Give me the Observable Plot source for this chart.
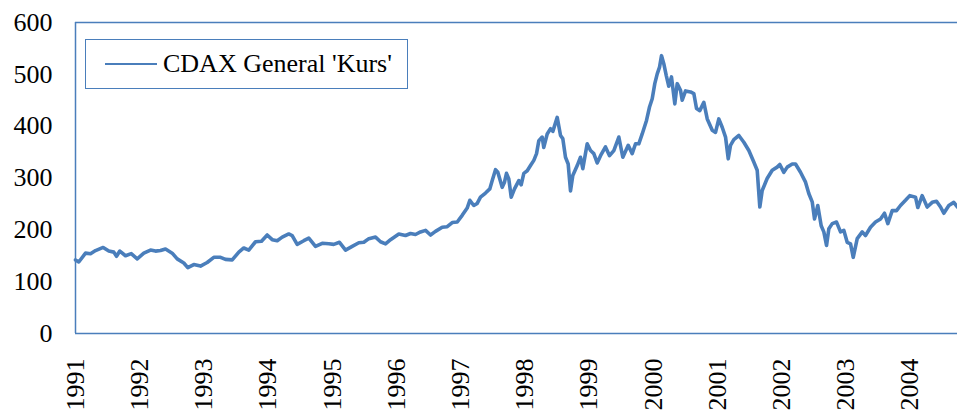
<!DOCTYPE html>
<html><head><meta charset="utf-8">
<script src="https://cdn.jsdelivr.net/npm/d3@7"></script>
<script src="https://cdn.jsdelivr.net/npm/@observablehq/plot@0.6"></script>
<style>
body{margin:0;background:#fff;}
#wrap{position:relative;width:957px;height:415px;overflow:hidden;}
#wrap svg, #wrap svg text{font-family:"Liberation Serif","Times New Roman",serif !important;font-variant-numeric:normal !important;}
#legend{position:absolute;left:85px;top:39px;width:323px;height:50px;border:1.5px solid #4a7ebb;box-sizing:border-box;font-family:"Liberation Serif",serif;font-size:26px;color:#000;display:flex;align-items:center;background:#fff;}
#legend .sw{display:inline-block;width:52px;height:2px;background:#4a7ebb;margin-left:19px;margin-right:6px;}
</style>
</head><body>
<div id="wrap"></div>
<script>
const seriesName = "CDAX General 'Kurs'";
const years = [1991,1992,1993,1994,1995,1996,1997,1998,1999,2000,2001,2002,2003,2004];
const yTicks = [0,100,200,300,400,500,600];
// time as decimal year
const t = [
1991.000,1991.051,1991.156,1991.234,1991.312,1991.431,1991.519,1991.597,1991.639,1991.690,1991.779,1991.868,1991.961,
1992.064,1992.168,1992.246,1992.324,1992.402,1992.506,1992.584,1992.687,1992.749,1992.843,1992.947,
1993.051,1993.154,1993.259,1993.336,1993.441,1993.544,1993.621,1993.699,1993.804,1993.897,1993.986,
1994.064,1994.142,1994.220,1994.322,1994.375,1994.453,1994.556,1994.634,1994.738,1994.843,1994.946,
1995.023,1995.112,1995.206,1995.310,1995.413,1995.491,1995.569,1995.673,1995.751,1995.829,1995.907,
1996.036,1996.140,1996.218,1996.296,1996.374,1996.452,1996.530,1996.607,1996.712,1996.790,1996.868,1996.946,
1997.023,1997.101,1997.142,1997.204,1997.257,1997.308,1997.386,1997.453,1997.491,1997.542,1997.578,1997.646,1997.682,1997.713,1997.749,1997.787,1997.838,1997.905,1997.942,1997.983,
1998.036,1998.087,1998.139,1998.181,1998.217,1998.269,1998.294,1998.347,1998.399,1998.435,1998.503,1998.555,1998.590,1998.632,1998.674,1998.710,1998.746,1998.815,1998.866,1998.902,1998.970,
1999.022,1999.073,1999.126,1999.178,1999.255,1999.318,1999.385,1999.463,1999.525,1999.609,1999.671,1999.723,1999.774,1999.827,1999.894,1999.941,1999.983,
2000.023,2000.061,2000.097,2000.128,2000.164,2000.201,2000.241,2000.283,2000.335,2000.372,2000.424,2000.450,2000.502,2000.580,2000.631,2000.673,2000.724,2000.787,2000.840,2000.918,2000.969,
2001.020,2001.073,2001.125,2001.167,2001.202,2001.254,2001.332,2001.410,2001.488,2001.565,2001.618,2001.659,2001.696,2001.773,2001.852,2001.929,2001.970,
2002.033,2002.086,2002.164,2002.215,2002.293,2002.371,2002.422,2002.475,2002.511,2002.562,2002.615,2002.656,2002.698,2002.734,2002.787,2002.854,2002.916,2002.967,
2003.020,2003.072,2003.114,2003.176,2003.254,2003.305,2003.383,2003.461,2003.539,2003.601,2003.653,2003.721,2003.788,2003.850,2003.928,2003.995,
2004.084,2004.120,2004.188,2004.266,2004.344,2004.411,2004.474,2004.525,2004.603,2004.680,2004.738
];
const v = [
142,138,155,154,160,166,159,157,149,159,150,154,144,
155,161,159,160,163,155,144,136,127,133,130,
137,147,147,143,142,157,165,161,177,178,190,
181,179,186,192,189,172,179,184,168,174,173,
172,176,161,168,175,176,183,186,177,173,181,
192,189,193,191,196,199,190,197,205,206,214,215,
228,242,257,247,251,263,271,279,295,316,311,282,292,309,298,263,279,295,287,309,
314,324,334,347,372,379,359,385,395,390,417,382,376,340,327,275,305,324,340,318,366,
353,347,329,343,360,343,353,379,340,363,347,366,366,385,411,437,453,
482,501,514,536,520,498,477,495,443,482,469,450,468,466,463,434,430,446,414,392,388,
414,398,379,337,363,374,382,369,353,331,315,244,276,299,315,321,326,
311,321,327,327,311,292,270,254,221,247,208,196,170,202,212,215,196,199,
176,173,147,183,196,189,205,215,221,232,212,237,237,247,257,266,
263,243,266,244,253,255,244,232,247,253,244
];
const data = t.map((d, i) => ({t: d, v: v[i]}));

const blue = "#4a7ebb";
const serif = "Liberation Serif";
const chart = Plot.plot({
  width: 957, height: 415,
  marginLeft: 75, marginRight: 0, marginTop: 22, marginBottom: 82,
  style: {fontFamily: serif, fontSize: "26px", color: "#000", background: "#fff", overflow: "visible"},
  x: {type: "linear", domain: [1991, 2004.738]},
  y: {domain: [0, 600]},
  marks: [
    Plot.ruleY([0, 600], {stroke: blue, strokeWidth: 1.5}),
    Plot.ruleX([1991], {stroke: blue, strokeWidth: 1.5}),
    Plot.line(data, {x: "t", y: "v", stroke: blue, strokeWidth: 3.6, strokeLinejoin: "round"}),
    Plot.axisY({ticks: yTicks, tickSize: 0, tickPadding: 23, label: null, fontSize: 26, fontFamily: serif, tickFormat: d => String(d)}),
    Plot.axisX({ticks: years, tickSize: 0, tickRotate: -90, tickPadding: 25, label: null, fontSize: 26, fontFamily: serif, tickFormat: d => String(d)})
  ]
});
const wrap = document.getElementById("wrap");
wrap.appendChild(chart);
const lg = document.createElement("div");
lg.id = "legend";
lg.innerHTML = '<span class="sw"></span><span></span>';
lg.lastChild.textContent = seriesName;
wrap.appendChild(lg);
</script>
</body></html>
